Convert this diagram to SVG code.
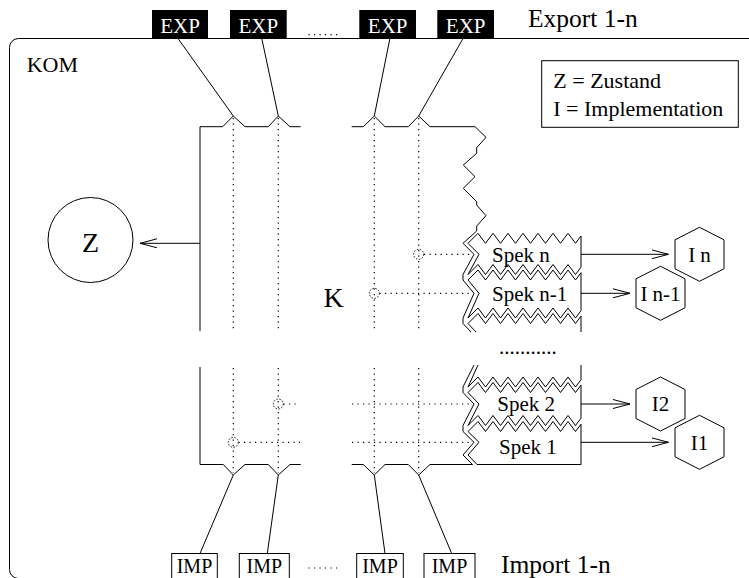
<svg xmlns="http://www.w3.org/2000/svg" width="749" height="578" viewBox="0 0 749 578" font-family="'Liberation Serif', 'Times New Roman', serif">
<style>
text { font-family: "Liberation Serif", "Times New Roman", serif; fill: #000; }
.ln { fill: none; stroke: #000; stroke-width: 1; }
.dot { fill: none; stroke: #000; stroke-width: 1.2; stroke-dasharray: 1.2 4.3; }
.dc { fill: none; stroke: #000; stroke-width: 0.9; stroke-dasharray: 1.5 1.5; }
.exp rect { fill: #000; }
.exp text { fill: #fff; font-size: 21px; text-anchor: middle; }
.imp rect { fill: #fff; stroke: #000; stroke-width: 1; }
.imp text { font-size: 20px; text-anchor: middle; }
.spek path { fill: #fff; stroke: #000; stroke-width: 1; }
.spek text { font-size: 21px; }
.hex polygon { fill: #fff; stroke: #000; stroke-width: 1; }
.hex text { font-size: 21px; text-anchor: middle; }
.big { font-size: 25.5px; }
.mid { font-size: 22px; }
</style>
<defs>
<marker id="arr" markerUnits="userSpaceOnUse" viewBox="0 0 18 10" refX="17" refY="5" markerWidth="18" markerHeight="10" orient="auto">
<path d="M0,0.5 L17,5 L0,9.5" fill="none" stroke="#000" stroke-width="1"/>
</marker>
</defs>
<rect width="749" height="578" fill="#fff"/>

<g id="kom">
<rect class="ln" x="9.5" y="38.5" width="800" height="540" rx="9"/>
<text class="mid" x="26.7" y="72.3">KOM</text>
</g>

<g id="legend">
<rect class="ln" x="541.7" y="60.7" width="196.6" height="66.6" fill="#fff"/>
<text class="mid" x="553.3" y="88.3">Z = Zustand</text>
<text class="mid" x="553.3" y="116">I = Implementation</text>
</g>

<text class="big" x="528" y="26.5">Export 1-n</text>
<text class="big" x="501" y="572.5">Import 1-n</text>

<g id="exp1" class="exp"><rect x="152" y="10" width="56" height="28"/><text x="180" y="32.5">EXP</text></g>
<g id="exp2" class="exp"><rect x="230" y="10" width="56.7" height="28"/><text x="258.3" y="32.5">EXP</text></g>
<g id="exp3" class="exp"><rect x="359.3" y="10" width="56.7" height="28"/><text x="387.7" y="32.5">EXP</text></g>
<g id="exp4" class="exp"><rect x="437.3" y="10" width="56.7" height="28"/><text x="465.7" y="32.5">EXP</text></g>
<line class="dot" x1="308.5" y1="34.7" x2="341" y2="34.7" stroke-dasharray="1.5 6"/>

<g id="imp1" class="imp"><rect x="171.7" y="553.5" width="45.6" height="40"/><text x="194.5" y="573">IMP</text></g>
<g id="imp2" class="imp"><rect x="239.3" y="553.5" width="50" height="40"/><text x="264.3" y="573">IMP</text></g>
<g id="imp3" class="imp"><rect x="356.7" y="553.5" width="46.6" height="40"/><text x="380" y="573">IMP</text></g>
<g id="imp4" class="imp"><rect x="424" y="553.5" width="51" height="40"/><text x="449.5" y="573">IMP</text></g>
<line class="dot" x1="308.5" y1="568" x2="341" y2="568" stroke-dasharray="1.5 6"/>

<g id="z">
<circle class="ln" cx="90.5" cy="240" r="42.5"/>
<text x="90.5" y="251.7" font-size="28" text-anchor="middle">Z</text>
</g>

<g id="k">
<path class="ln" d="M200,331 L200,126.7 L222.7,126.7 L233.3,116 L245,126.7 L268.3,126.7 L278.3,116 L290,126.7 L300.7,126.7"/>
<path class="ln" d="M351.7,126.7 L363.3,126.7 L374.3,116 L385,126.7 L408.3,126.7 L418.7,116 L430,126.7 L475,126.7 L486,137.3 L476.7,147.7 L476.7,153.3 L463.3,165 L475,176.7 L463.3,188.3 L476.7,201.7 L476.7,205 L486,215.7 L476.7,226 L476.7,231 L463,243.3 L474,254.3 L463,274.5 L463,280 L474,293.3 L463,318 L463,323.5 L471,332"/>
<path class="ln" d="M474,365 L463,387 L463,392.5 L474,404 L463,425.5 L463,431.5 L474,442.3 L463,455 L472.5,464.5 L430,464.5 L418.7,475 L408.3,464.5 L385,464.5 L374.3,475 L363.3,464.5 L351.7,464.5"/>
<path class="ln" d="M300.7,464.5 L290,464.5 L278.3,475 L268.3,464.5 L245,464.5 L233.3,475 L223.3,464.5 L200,464.5 L200,367"/>
<path class="dot" d="M233.3,118 V331 M233.3,368 V473 M278.3,118 V331 M278.3,368 V473 M374.3,118 V331 M374.3,368 V473 M418.7,118 V331 M418.7,368 V473"/>
<path class="dot" d="M424,254.3 H472 M379.5,293.3 H472 M283.5,404 H300 M352,404 H472 M238.5,442.3 H300 M352,442.3 H472"/>
<circle class="dc" cx="418.7" cy="254.3" r="5"/>
<circle class="dc" cx="374.3" cy="293.3" r="5"/>
<circle class="dc" cx="278.3" cy="404" r="5"/>
<circle class="dc" cx="233.3" cy="442.3" r="5"/>
<text x="333.5" y="306.5" font-size="28" text-anchor="middle">K</text>
<text x="499" y="353.5" font-size="21">...........</text>
</g>

<g id="spek_n" class="spek">
<path d="M468,243.3 L478,233.3 l7.5,10 l7.5,-10 l7.5,10 l7.5,-10 l7.5,10 l7.5,-10 l7.5,10 l7.5,-10 l7.5,10 l7.5,-10 l7.5,10 l7.5,-10 l7.5,10 l5.5,-7.33 L581,267.17 l-5.5,7.33 l-7.5,-10 l-7.5,10 l-7.5,-10 l-7.5,10 l-7.5,-10 l-7.5,10 l-7.5,-10 l-7.5,10 l-7.5,-10 l-7.5,10 l-7.5,-10 l-7.5,10 l-7.5,-10 L468,274.5 L479,254.3 Z"/>
<text x="492" y="262">Spek n</text>
</g>
<g id="spek_n1" class="spek">
<path d="M468,280 L478,270 l7.5,10 l7.5,-10 l7.5,10 l7.5,-10 l7.5,10 l7.5,-10 l7.5,10 l7.5,-10 l7.5,10 l7.5,-10 l7.5,10 l7.5,-10 l7.5,10 l5.5,-7.33 L581,310.67 l-5.5,7.33 l-7.5,-10 l-7.5,10 l-7.5,-10 l-7.5,10 l-7.5,-10 l-7.5,10 l-7.5,-10 l-7.5,10 l-7.5,-10 l-7.5,10 l-7.5,-10 l-7.5,10 l-7.5,-10 L468,318 L479,293.3 Z"/>
<text x="492" y="300.5">Spek n-1</text>
</g>
<g id="spek_cut_a" class="spek">
<path d="M476,332 L468,323.5 L478,313.5 l7.5,10 l7.5,-10 l7.5,10 l7.5,-10 l7.5,10 l7.5,-10 l7.5,10 l7.5,-10 l7.5,10 l7.5,-10 l7.5,10 l7.5,-10 l7.5,10 l5.5,-7.33 L581,332"/>
</g>
<g id="spek_cut_b" class="spek">
<path d="M478,365 L468,387 L478,377 l7.5,10 l7.5,-10 l7.5,10 l7.5,-10 l7.5,10 l7.5,-10 l7.5,10 l7.5,-10 l7.5,10 l7.5,-10 l7.5,10 l7.5,-10 l7.5,10 l5.5,-7.33 L581,365"/>
</g>
<g id="spek_2" class="spek">
<path d="M468,392.5 L478,382.5 l7.5,10 l7.5,-10 l7.5,10 l7.5,-10 l7.5,10 l7.5,-10 l7.5,10 l7.5,-10 l7.5,10 l7.5,-10 l7.5,10 l7.5,-10 l7.5,10 l5.5,-7.33 L581,418.17 l-5.5,7.33 l-7.5,-10 l-7.5,10 l-7.5,-10 l-7.5,10 l-7.5,-10 l-7.5,10 l-7.5,-10 l-7.5,10 l-7.5,-10 l-7.5,10 l-7.5,-10 l-7.5,10 l-7.5,-10 L468,425.5 L479,404 Z"/>
<text x="497.3" y="411">Spek 2</text>
</g>
<g id="spek_1" class="spek">
<path d="M468,431.5 L478,421.5 l7.5,10 l7.5,-10 l7.5,10 l7.5,-10 l7.5,10 l7.5,-10 l7.5,10 l7.5,-10 l7.5,10 l7.5,-10 l7.5,10 l7.5,-10 l7.5,10 l5.5,-7.33 L581,464.5 L477,464.5 L468,455 L479,442.3 Z"/>
<text x="499" y="454">Spek 1</text>
</g>

<g id="i_n" class="hex">
<polygon points="699.5,227.3 724,239.8 724,268.8 699.5,281.3 675,268.8 675,239.8"/>
<text x="699.5" y="261.5">I n</text>
</g>
<g id="i_n1" class="hex">
<polygon points="660.5,266.3 685,278.8 685,307.8 660.5,320.3 636,307.8 636,278.8"/>
<text x="660.5" y="300.5">I n-1</text>
</g>
<g id="i_2" class="hex">
<polygon points="660.5,377 685,389.5 685,418.5 660.5,431 636,418.5 636,389.5"/>
<text x="660.5" y="411.2">I2</text>
</g>
<g id="i_1" class="hex">
<polygon points="699.5,415.3 724,427.8 724,456.8 699.5,469.3 675,456.8 675,427.8"/>
<text x="699.5" y="449.5">I1</text>
</g>

<g id="connectors">
<line class="ln" x1="177.7" y1="38" x2="233.3" y2="116"/>
<line class="ln" x1="261.7" y1="38" x2="278.3" y2="116"/>
<line class="ln" x1="390" y1="38" x2="374.3" y2="116"/>
<line class="ln" x1="463.3" y1="38" x2="418.7" y2="116"/>
<line class="ln" x1="233.3" y1="475" x2="200" y2="553.5"/>
<line class="ln" x1="278.3" y1="475" x2="267.3" y2="553.5"/>
<line class="ln" x1="374.3" y1="475" x2="385" y2="553.5"/>
<line class="ln" x1="418.7" y1="475" x2="451.7" y2="553.5"/>
<line class="ln" x1="200" y1="243.3" x2="140" y2="243.3" marker-end="url(#arr)"/>
<line class="ln" x1="581" y1="254.3" x2="668.5" y2="254.3" marker-end="url(#arr)"/>
<line class="ln" x1="581" y1="293.3" x2="630" y2="293.3" marker-end="url(#arr)"/>
<line class="ln" x1="581" y1="404" x2="630" y2="404" marker-end="url(#arr)"/>
<line class="ln" x1="581" y1="442.3" x2="668.5" y2="442.3" marker-end="url(#arr)"/>
</g>
</svg>
